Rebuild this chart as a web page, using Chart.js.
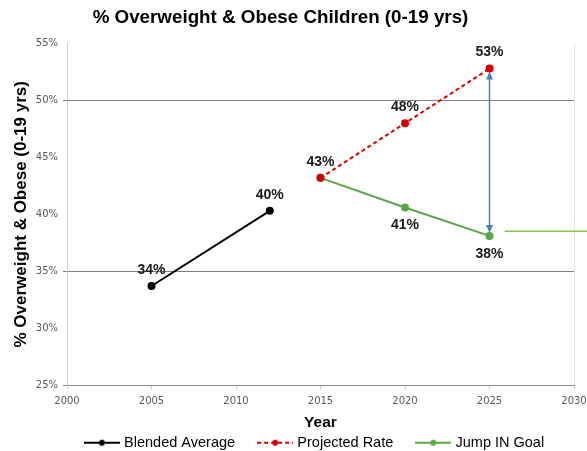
<!DOCTYPE html>
<html><head><meta charset="utf-8">
<script src="https://cdn.jsdelivr.net/npm/chart.js@4/dist/chart.umd.min.js"></script>
<style>html,body{margin:0;padding:0;background:#fff;overflow:hidden}#wrap{width:587px;height:451px}</style>
</head><body><div id="wrap"><canvas id="c"></canvas></div>
<script>
// ---- data ----
const blendedYears = [2005, 2012];
const blendedValues = [33.7, 40.3];
const projYears = [2015, 2020, 2025];
const projectedValues = [43.2, 48.0, 52.8];
const goalValues = [43.2, 40.6, 38.1];
const yTickValues = [25, 30, 35, 40, 45, 50, 55];
const xTickValues = [2000, 2005, 2010, 2015, 2020, 2025, 2030];
const gridValues = [35, 50];
const goalLineValue = 38.5;
const goalLineStartYear = 2025.9;

const FONT = "'Liberation Sans', Arial, sans-serif";
const TICKFONT = "'DejaVu Sans', sans-serif";

function legendIcon(color, dashed) {
  const c = document.createElement('canvas');
  c.width = 36; c.height = 10;
  const g = c.getContext('2d');
  g.strokeStyle = color; g.lineWidth = 2;
  if (dashed) g.setLineDash([4, 3]);
  g.beginPath(); g.moveTo(0, 5); g.lineTo(36, 5); g.stroke();
  g.setLineDash([]);
  g.fillStyle = color; g.beginPath(); g.arc(18, 5, 3, 0, Math.PI * 2); g.fill();
  return c;
}

const toXY = (xs, ys) => xs.map((x, i) => ({x: x, y: ys[i]}));

const labelPlugin = {
  id: 'labels',
  afterDatasetsDraw(chart) {
    const ctx = chart.ctx;
    const seen = [];
    ctx.save();
    ctx.font = "bold 14px " + FONT;
    ctx.fillStyle = '#1a1a1a';
    ctx.textAlign = 'center';
    chart.data.datasets.forEach((ds, di) => {
      const meta = chart.getDatasetMeta(di);
      meta.data.forEach((pt, i) => {
        const key = Math.round(pt.x) + ',' + Math.round(pt.y);
        if (seen.includes(key)) return;
        seen.push(key);
        const v = ds.data[i].y;
        const txt = Math.round(v) + '%';
        if (ds.labelSide === 'below') {
          ctx.textBaseline = 'top';
          ctx.fillText(txt, pt.x, pt.y + 11);
        } else {
          ctx.textBaseline = 'bottom';
          ctx.fillText(txt, pt.x, pt.y - 9);
        }
      });
    });
    ctx.restore();
  }
};

const annotPlugin = {
  id: 'annot',
  afterLayout(chart) {
    // center legend under the plot area, title slightly left as in the original
    const lg = chart.legend;
    lg.left += 22; lg.right += 22;
    const tb = chart.titleBlock;
    if (tb) { tb.left -= 13; tb.right -= 13; }
  },
  afterDatasetsDraw(chart) {
    const ctx = chart.ctx;
    const xs = chart.scales.x, ys = chart.scales.y;
    const ax = xs.getPixelForValue(projYears[projYears.length - 1]);
    const y1 = ys.getPixelForValue(projectedValues[projectedValues.length - 1]) + 3;
    const y2 = ys.getPixelForValue(goalValues[goalValues.length - 1]) - 3;
    ctx.save();
    ctx.strokeStyle = '#4a7ebb'; ctx.fillStyle = '#4a7ebb'; ctx.lineWidth = 1.5;
    ctx.beginPath(); ctx.moveTo(ax, y1 + 6); ctx.lineTo(ax, y2 - 6); ctx.stroke();
    ctx.beginPath(); ctx.moveTo(ax, y1); ctx.lineTo(ax - 3.5, y1 + 8); ctx.lineTo(ax + 3.5, y1 + 8); ctx.closePath(); ctx.fill();
    ctx.beginPath(); ctx.moveTo(ax, y2); ctx.lineTo(ax - 3.5, y2 - 8); ctx.lineTo(ax + 3.5, y2 - 8); ctx.closePath(); ctx.fill();
    const gy = ys.getPixelForValue(goalLineValue);
    ctx.strokeStyle = '#8cc63f'; ctx.lineWidth = 1.5;
    ctx.beginPath(); ctx.moveTo(xs.getPixelForValue(goalLineStartYear), gy); ctx.lineTo(chart.width, gy); ctx.stroke();
    ctx.restore();
  }
};

new Chart(document.getElementById('c'), {
  type: 'line',
  data: {
    datasets: [
      {label: 'Blended Average', data: toXY(blendedYears, blendedValues), borderColor: '#000', backgroundColor: '#000',
       borderWidth: 2, pointRadius: 3, pointHoverRadius: 3, labelSide: 'above', icon: legendIcon('#000', false)},
      {label: 'Projected Rate', data: toXY(projYears, projectedValues), borderColor: '#d40000', backgroundColor: '#d40000',
       borderWidth: 2, borderDash: [4, 3], pointRadius: 3, pointHoverRadius: 3, labelSide: 'above', icon: legendIcon('#d40000', true)},
      {label: 'Jump IN Goal', data: toXY(projYears, goalValues), borderColor: '#5aa646', backgroundColor: '#5aa646',
       borderWidth: 2, pointRadius: 3, pointHoverRadius: 3, labelSide: 'below', icon: legendIcon('#5aa646', false)}
    ]
  },
  options: {
    responsive: true, maintainAspectRatio: false, animation: false,
    layout: {padding: {left: 0, right: 0, top: 0, bottom: -9}},
    plugins: {
      tooltip: {enabled: false},
      title: {display: true, text: '% Overweight & Obese Children (0-19 yrs)', color: '#000',
        font: {family: FONT, size: 18.8, weight: 'bold'}, padding: {top: 7, bottom: 14}},
      legend: {position: 'bottom',
        labels: {usePointStyle: true, pointStyleWidth: 30, padding: 25, color: '#000',
          font: {family: FONT, size: 14.5},
          generateLabels(chart) {
            return chart.data.datasets.map((ds, i) => ({text: ds.label, pointStyle: ds.icon, datasetIndex: i,
              fontColor: '#000', lineWidth: 0, strokeStyle: 'transparent', fillStyle: 'transparent'}));
          }}}
    },
    scales: {
      x: {type: 'linear', min: xTickValues[0], max: xTickValues[xTickValues.length - 1],
        afterBuildTicks(s) { s.ticks = xTickValues.map(v => ({value: v})); },
        ticks: {color: '#595959', font: {family: TICKFONT, size: 10}, callback: v => String(v), maxRotation: 0, padding: 6},
        grid: {color: ctx => ctx.tick && ctx.tick.value === 2030 ? '#e6e6e6' : 'transparent', tickColor: '#c8c8c8', tickLength: 4},
        border: {color: '#8c8c8c', width: 1},
        title: {display: true, text: 'Year', color: '#000', font: {family: FONT, size: 15.5, weight: 'bold'}, padding: {top: 0, bottom: -21.5}},
        afterFit(s) { s.height = 25.5; s.paddingRight = 13; s.paddingLeft = 0; }
      },
      y: {min: yTickValues[0], max: yTickValues[yTickValues.length - 1],
        afterBuildTicks(s) { s.ticks = yTickValues.map(v => ({value: v})); },
        ticks: {color: '#595959', font: {family: TICKFONT, size: 10}, callback: v => v + '%', padding: 5},
        grid: {color: ctx => ctx.tick && gridValues.includes(ctx.tick.value) ? '#808080' : 'transparent',
          tickColor: ctx => ctx.tick && (gridValues.includes(ctx.tick.value) || ctx.tick.value === 25) ? '#808080' : 'transparent',
          tickLength: 4, lineWidth: 1},
        border: {color: '#d0d0d0', width: 1},
        title: {display: true, text: '% Overweight & Obese (0-19 yrs)', color: '#000', font: {family: FONT, size: 17, weight: 'bold'}, padding: {top: 11, bottom: 0}},
        afterFit(s) { s.width = 67; }
      }
    }
  },
  plugins: [labelPlugin, annotPlugin]
});
</script>
</body></html>
